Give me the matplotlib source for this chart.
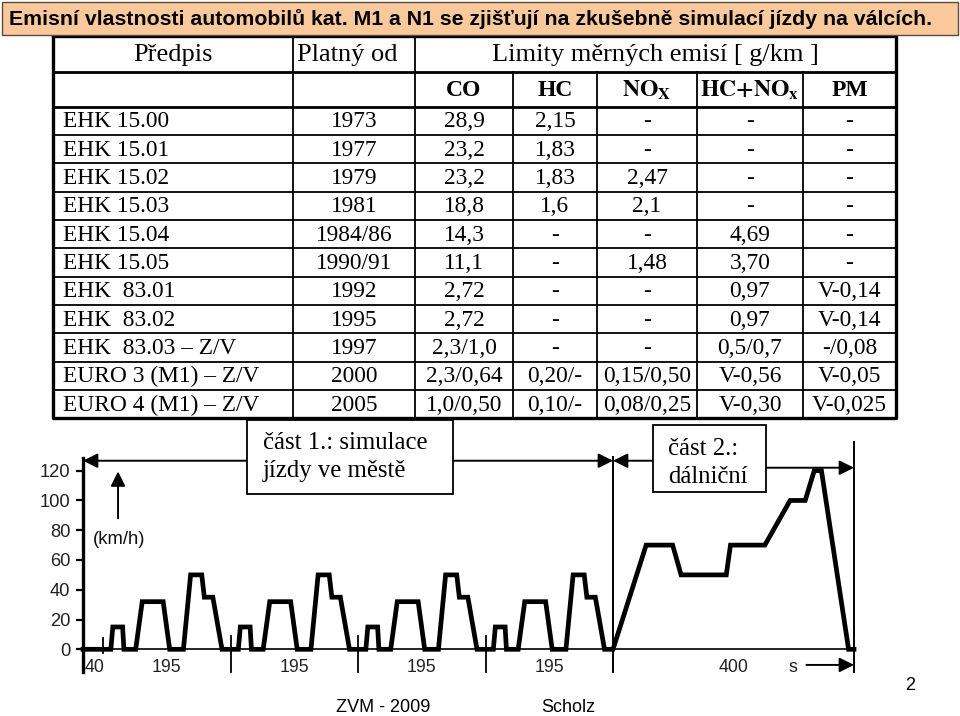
import numpy as np
import matplotlib
matplotlib.use("Agg")
import matplotlib.pyplot as plt
from matplotlib.patches import Rectangle

plt.rcParams['mathtext.fontset'] = 'stix'

SERIF = 'Liberation Serif'
SANS = 'Liberation Sans'

# --- data -----------------------------------------------------------------
title = "Emisní vlastnosti automobilů kat. M1 a N1 se zjišťují na zkušebně simulací jízdy na válcích."

predpis = ["EHK 15.00", "EHK 15.01", "EHK 15.02", "EHK 15.03", "EHK 15.04",
           "EHK 15.05", "EHK  83.01", "EHK  83.02", "EHK  83.03 – Z/V",
           "EURO 3 (M1) – Z/V", "EURO 4 (M1) – Z/V"]
platny_od = ["1973", "1977", "1979", "1981", "1984/86", "1990/91", "1992",
             "1995", "1997", "2000", "2005"]
co = ["28,9", "23,2", "23,2", "18,8", "14,3", "11,1", "2,72", "2,72",
      "2,3/1,0", "2,3/0,64", "1,0/0,50"]
hc = ["2,15", "1,83", "1,83", "1,6", "-", "-", "-", "-", "-", "0,20/-", "0,10/-"]
nox = ["-", "-", "2,47", "2,1", "-", "1,48", "-", "-", "-", "0,15/0,50",
       "0,08/0,25"]
hc_nox = ["-", "-", "-", "-", "4,69", "3,70", "0,97", "0,97", "0,5/0,7",
          "V-0,56", "V-0,30"]
pm = ["-", "-", "-", "-", "-", "-", "V-0,14", "V-0,14", "-/0,08", "V-0,05",
      "V-0,025"]
sub_headers = ["CO", "HC", r"$\mathbf{NO_X}$", r"$\mathbf{HC{+}NO_x}$", "PM"]

# driving cycle: 40 s idle, 4x urban cycle (195 s), extra-urban part (400 s)
idle_start = 40
n_urban = 4
urban_len = 195
urban_t = [0, 12, 15, 30, 32, 50, 60, 92, 102, 123, 134, 151, 155, 168, 182, 195]
urban_v = [0, 0, 15, 15, 0, 0, 32, 32, 0, 0, 50, 50, 35, 35, 0, 0]
eudc_t = [0, 55, 99, 113, 188, 195, 252, 294, 319, 334, 346, 391, 400]
eudc_v = [0, 70, 70, 50, 50, 70, 70, 100, 100, 120, 120, 0, 0]
eudc_len = 400
y_ticks = [0, 20, 40, 60, 80, 100, 120]

t = [0]
v = [0]
for k in range(n_urban):
    start = idle_start + k * urban_len
    t += [start + x for x in urban_t]
    v += urban_v
eudc_start = idle_start + n_urban * urban_len
t += [eudc_start + x for x in eudc_t]
v += eudc_v
t_end = eudc_start + eudc_len

# --- figure ---------------------------------------------------------------
fig = plt.figure(figsize=(9.6, 7.16), dpi=100)
bg = fig.add_axes([0, 0, 1, 1])
bg.set_xlim(0, 960)
bg.set_ylim(716, 0)
bg.axis('off')

# table
col_x = [53, 293, 415, 513, 597, 697, 803, 896]
r_top, r_h1, r_h2 = 36, 71.5, 106.5
row_h = 28.35
n_rows = len(predpis)
r_bot = r_h2 + n_rows * row_h

for i in range(1, n_rows):
    y = r_h2 + i * row_h
    bg.plot([col_x[0], col_x[-1]], [y, y], color='k', lw=1.3)
for y in (r_h1, r_h2):
    bg.plot([col_x[0], col_x[-1]], [y, y], color='k', lw=2.0)
for x in col_x[1:3]:
    bg.plot([x, x], [r_top, r_bot], color='k', lw=1.3)
for x in col_x[3:-1]:
    bg.plot([x, x], [r_h1, r_bot], color='k', lw=1.3)
bg.plot([col_x[0], col_x[0], col_x[-1], col_x[-1], col_x[0]],
        [r_top, r_bot, r_bot, r_top, r_top], color='k', lw=2.4)

# title bar sits over the table top edge
bg.add_patch(Rectangle((2, 2), 956, 33, fc='#F9C99B', ec='#5a4a3a', lw=1, zorder=3))
bg.text(9, 19, title, fontsize=15.3, fontweight='bold', family=SANS,
        va='center', ha='left', zorder=4)

hy = (r_top + r_h1) / 2 + 1
bg.text((col_x[0] + col_x[1]) / 2, hy, "Předpis", family=SERIF,
        fontsize=19, ha='center', va='center')
bg.text(col_x[1] + 4, hy, "Platný od", family=SERIF, fontsize=19,
        ha='left', va='center')
bg.text((col_x[2] + col_x[-1]) / 2, hy, "Limity měrných emisí [ g/km ]",
        family=SERIF, fontsize=19, ha='center', va='center')
for j, lab in enumerate(sub_headers):
    cx = (col_x[j + 2] + col_x[j + 3]) / 2
    bg.text(cx, (r_h1 + r_h2) / 2 + 1, lab, family=SERIF, fontweight='bold',
            fontsize=17, ha='center', va='center')

columns = [platny_od, co, hc, nox, hc_nox, pm]
for i in range(n_rows):
    cy = r_h2 + (i + 0.5) * row_h + 1
    bg.text(col_x[0] + 10, cy, predpis[i], family=SERIF, fontsize=16.8,
            ha='left', va='center')
    for j, col in enumerate(columns):
        cx = (col_x[j + 1] + col_x[j + 2]) / 2
        bg.text(cx, cy, col[i], family=SERIF, fontsize=16.8, ha='center',
                va='center')

# footer
bg.text(383, 707, "ZVM - 2009", family=SANS, fontsize=13, ha='center', va='center')
bg.text(568, 707, "Scholz", family=SANS, fontsize=13, ha='center', va='center')
bg.text(910, 685, "2", family=SANS, fontsize=13, ha='center', va='center')

# --- driving cycle chart ----------------------------------------------------
# time axis drawn as in the source: idle start compressed, parts not to one scale
t_knots = [-1000, 0, idle_start, eudc_start, t_end, 3000]
u_knots = [-500, 0, 20, 530, 771, 771 + (3000 - t_end) * 241 / 400]


def fwd(x):
    return np.interp(x, t_knots, u_knots)


def inv(u):
    return np.interp(u, u_knots, t_knots)


y0_px, y120_px = 649.3, 470.7
ax = fig.add_axes([83 / 960, (716 - y0_px) / 716, (854 - 83) / 960,
                   (y0_px - y120_px) / 716])
ax.set_facecolor('none')
ax.set_xscale('function', functions=(fwd, inv))
ax.set_xlim(0, t_end)
ax.set_ylim(0, 120)
for s in ('top', 'right', 'left'):
    ax.spines[s].set_visible(False)
ax.spines['bottom'].set_linewidth(1.2)
ax.set_xticks([])
ax.set_yticks(y_ticks)
ax.tick_params(axis='y', length=5, width=1.6, pad=4, labelsize=13.2,
               labelcolor='#222222')
for lab in ax.get_yticklabels():
    lab.set_family(SANS)

ax.plot(t, v, color='k', lw=3.4, solid_joinstyle='miter', clip_on=False, zorder=3)
ax.plot([0, 0], [-15, 128.5], color='k', lw=2.4, clip_on=False)

# segment marks
ax.plot([idle_start] * 2, [-2.5, 7.5], color='k', lw=1.3, clip_on=False)
for k in range(1, n_urban):
    x = idle_start + k * urban_len
    ax.plot([x, x], [-15, 9], color='k', lw=1.3, clip_on=False)
ax.plot([eudc_start] * 2, [-15, 129], color='k', lw=1.4, clip_on=False)
ax.plot([t_end] * 2, [-15, 139], color='k', lw=1.4, clip_on=False)

lbl = dict(family=SANS, fontsize=12.8, color='#222222', ha='center', va='center')
ax.text(idle_start / 2 + 3, -12, str(idle_start), **lbl)
for k in range(n_urban):
    ax.text(idle_start + (k + 0.5) * urban_len, -12, str(urban_len), **lbl)
ax.text(eudc_start + eudc_len / 2, -12, str(eudc_len), **lbl)
ax.text(1119, -12, "s", **lbl)
ax.text(64, 74, "(km/h)", family=SANS, fontsize=13.3, color='#111111',
        ha='center', va='center')

arw = dict(arrowstyle='-|>', color='k', lw=1.4, mutation_scale=22,
           shrinkA=0, shrinkB=0)
ax.annotate('', xy=(1220, -10.5), xytext=(1141, -10.5), arrowprops=arw,
            annotation_clip=False)
ax.annotate('', xy=(63, 119.5), xytext=(63, 88), arrowprops=arw,
            annotation_clip=False)
ax.annotate('', xy=(0, 126.7), xytext=(420, 126.7), arrowprops=arw,
            annotation_clip=False)
ax.annotate('', xy=(eudc_start, 126.7), xytext=(420, 126.7), arrowprops=arw,
            annotation_clip=False)
ax.annotate('', xy=(eudc_start, 126.7), xytext=(890, 126.7), arrowprops=arw,
            annotation_clip=False)
ax.annotate('', xy=(t_end, 122), xytext=(1070, 122), arrowprops=arw,
            annotation_clip=False)

# labelled boxes (placed in slide pixels)
for (x0, y0, x1, y1) in [(247, 420, 453, 494), (653, 425, 766, 492)]:
    ax.add_patch(Rectangle((x0, y0), x1 - x0, y1 - y0, transform=bg.transData,
                           fc='white', ec='k', lw=1.3, clip_on=False, zorder=10))
box_txt = dict(family=SERIF, fontsize=17.8, ha='left', va='center',
               transform=bg.transData, zorder=11)
ax.text(263, 443, "část 1.: simulace", **box_txt)
ax.text(263, 471, "jízdy ve městě", **box_txt)
ax.text(668, 449, "část 2.:", **box_txt)
ax.text(668, 477, "dálniční", **box_txt)

fig.savefig("out.png", dpi=100)
